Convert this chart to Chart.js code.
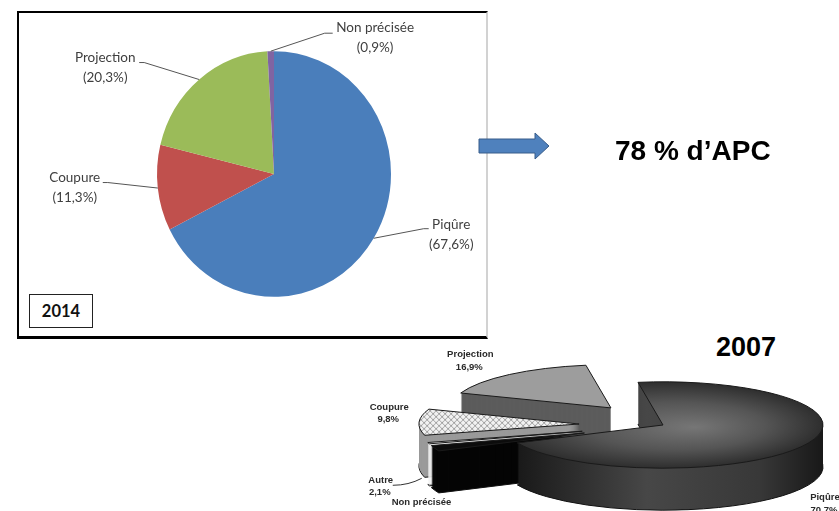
<!DOCTYPE html>
<html><head><meta charset="utf-8">
<script src="https://cdn.jsdelivr.net/npm/chart.js@4.4.1/dist/chart.umd.min.js"></script>
<style>
html,body{margin:0;padding:0;background:#fff;}
body{width:839px;height:511px;overflow:hidden;position:relative;font-family:Lato,sans-serif;}
.abs{position:absolute;}
#box{left:17px;top:11px;width:471px;height:328px;box-sizing:border-box;border-left:2px solid #000;border-top:2px solid #000;border-bottom:3px solid #000;border-right:2px solid #d2d2d2;background:#fff;}
#c1wrap{left:19px;top:13px;width:467px;height:323px;}
#tag{left:29px;top:294px;width:64px;height:34px;box-sizing:border-box;border:1px solid #222;font:bold 16.5px Lato;line-height:32px;text-align:center;color:#111;background:#fff}
#apc{left:615px;top:137px;font:bold 28px "Liberation Sans",Arial,sans-serif;line-height:28px;color:#000;white-space:nowrap}
#y2007{left:716px;top:334px;font:bold 27px "Liberation Sans",Arial,sans-serif;line-height:27px;color:#000}
#c2wrap{left:340px;top:265px;width:540px;height:320px;}
#arrow{left:470px;top:125px;}
</style></head><body>
<div id="box" class="abs"></div>
<div id="c1wrap" class="abs"><canvas id="c1"></canvas></div>
<div id="tag" class="abs">2014</div>
<svg id="arrow" class="abs" width="90" height="45" viewBox="470 125 90 45">
  <polygon points="479,139 535,139 535,133 549,146 535,159 535,153 479,153" fill="#4F81BD" stroke="#385D8A" stroke-width="1"/>
</svg>
<div id="apc" class="abs">78 % d’APC</div>
<div id="y2007" class="abs">2007</div>
<div id="c2wrap" class="abs"><canvas id="c2"></canvas></div>
<script>
// ---- data ----
const cats2014 = ['Piqûre', 'Coupure', 'Projection', 'Non précisée'];
const vals2014 = [67.6, 11.3, 20.3, 0.9];
const cats2007 = ['Piqûre', 'Autre', 'Non précisée', 'Coupure', 'Projection'];
const vals2007 = [70.7, 2.1, 0.5, 9.8, 16.9];

// ---- styles ----
const colors2014 = ['#4a7ebb', '#c0504d', '#9bbb59', '#8064a2'];
const top2007 = ['#4a4a4a', '#0c0c0c', '#ffffff', '#e4e4e4', '#9d9d9d'];
const side2007 = ['#2a2a2a', '#050505', '#f2f2f2', '#9a9a9a', '#5c5c5c'];
const fmt = v => v.toFixed(1).replace('.', ',') + '%';

// label layout relative to slice mid-edge anchor (2014)
const lead2014 = {
  elbow: [[50, -9.6], [-50, -5.5], [-55, -17], [54, -18]],
  end:   [[55, -9.6], [-55, -5.5], [-60, -17], [62, -18]],
  text:  [[77.5, -13.6], [-83, -10.5], [-94, -22], [104.4, -24]]
};
// label layout (2007)
const text2007 = [[21, 52], [-54, 32], [-7, 59], [-30, -15], [-39, -20]];

// ---- chart 2014 ----
const flat2014 = {
  id: 'flat2014',
  beforeDatasetsDraw(chart, args, o) {
    const a = chart.getDatasetMeta(0).data[0];
    const ctx = chart.ctx; ctx.save();
    ctx.translate(a.x, a.y); ctx.scale(1, o.k); ctx.translate(-a.x, -a.y);
  },
  afterDatasetsDraw(chart, args, o) {
    const ctx = chart.ctx; ctx.restore();
    const arcs = chart.getDatasetMeta(0).data;
    ctx.save();
    ctx.font = '13.5px Lato';
    ctx.fillStyle = '#3f3f3f';
    ctx.strokeStyle = '#555';
    ctx.lineWidth = 1;
    ctx.textAlign = 'center'; ctx.textBaseline = 'middle';
    arcs.forEach((a, i) => {
      const mid = (a.startAngle + a.endAngle) / 2;
      const ax = a.x + a.outerRadius * Math.cos(mid);
      const ay = a.y + a.outerRadius * o.k * Math.sin(mid);
      const e = lead2014.elbow[i], n = lead2014.end[i], t = lead2014.text[i];
      ctx.beginPath(); ctx.moveTo(ax, ay); ctx.lineTo(ax + e[0], ay + e[1]); ctx.lineTo(ax + n[0], ay + n[1]); ctx.stroke();
      ctx.fillText(cats2014[i], ax + t[0], ay + t[1]);
      ctx.fillText('(' + fmt(vals2014[i]) + ')', ax + t[0], ay + t[1] + 20);
    });
    ctx.restore();
  }
};

new Chart(document.getElementById('c1'), {
  type: 'pie',
  data: { labels: cats2014, datasets: [{ data: vals2014, backgroundColor: colors2014, borderWidth: 0, hoverOffset: 0, offset: 0, clip: false }] },
  options: {
    responsive: true, maintainAspectRatio: false, animation: false, events: [],
    layout: { padding: { left: 138, right: 95, top: 44, bottom: 45 } },
    plugins: { legend: { display: false }, tooltip: { enabled: false }, flat2014: { k: 1.05 } }
  },
  plugins: [flat2014]
});

// ---- chart 2007 (3D exploded) ----
const K = 0.27;
let hatch = null;
function getHatch(ctx) {
  if (hatch) return hatch;
  const c = document.createElement('canvas'); c.width = 6; c.height = 6;
  const g = c.getContext('2d');
  g.fillStyle = '#f2f2f2'; g.fillRect(0, 0, 6, 6);
  g.strokeStyle = '#a0a0a0'; g.lineWidth = 1;
  g.beginPath(); g.moveTo(0, 6); g.lineTo(6, 0); g.moveTo(0, 0); g.lineTo(6, 6); g.stroke();
  hatch = ctx.createPattern(c, 'repeat');
  try { hatch.setTransform(new DOMMatrix().scale(1, 1 / K)); } catch (e) {}
  return hatch;
}
function topColor(c) {
  const i = c.dataIndex, ch = c.chart, ca = ch.chartArea;
  if (i === 0 && ca) {
    const cx = (ca.left + ca.right) / 2, cy = (ca.top + ca.bottom) / 2, R = Math.min(ca.width, ca.height) / 2;
    const g = ch.ctx.createRadialGradient(cx + 0.2 * R, cy + 0.05 * R, 0, cx, cy, R);
    g.addColorStop(0, '#767676'); g.addColorStop(0.55, '#555555'); g.addColorStop(1, '#2e2e2e');
    return g;
  }
  if (i === 3) return getHatch(ch.ctx);
  return top2007[i];
}
function sideFill(ctx, i, R) {
  if (i === 0) {
    const g = ctx.createLinearGradient(-R, 0, R, 0);
    g.addColorStop(0, '#141414'); g.addColorStop(0.45, '#474747'); g.addColorStop(0.8, '#383838'); g.addColorStop(1, '#181818');
    return g;
  }
  return side2007[i];
}
function sector(ctx, a, x, y, k) {
  ctx.save();
  ctx.translate(x, y); ctx.scale(1, k);
  ctx.beginPath(); ctx.moveTo(0, 0); ctx.arc(0, 0, a.outerRadius, a.startAngle, a.endAngle); ctx.closePath();
  ctx.restore();
}
const pie3d = {
  id: 'pie3d',
  beforeDatasetsDraw(chart, args, o) {
    const ctx = chart.ctx;
    const arcs = chart.getDatasetMeta(0).data;
    const ex = [], ey = [];
    arcs.forEach((a, i) => {
      const mid = (a.startAngle + a.endAngle) / 2;
      ex[i] = Math.cos(mid) * o.explode[i];
      ey[i] = Math.sin(mid) * o.explode[i] * o.k;
    });
    for (const i of o.order) {
      const a = arcs[i];
      const R = a.outerRadius;
      for (let d = o.depth; d >= 1; d--) {
        ctx.save();
        ctx.translate(a.x + ex[i], a.y + ey[i] + d); ctx.scale(1, o.k);
        ctx.beginPath(); ctx.moveTo(0, 0); ctx.arc(0, 0, R, a.startAngle, a.endAngle); ctx.closePath();
        ctx.fillStyle = sideFill(ctx, i, R);
        ctx.fill();
        ctx.restore();
        if (d === o.depth) {
          sector(ctx, a, a.x + ex[i], a.y + ey[i] + d, o.k);
          ctx.lineWidth = 1; ctx.strokeStyle = '#111'; ctx.stroke();
        }
      }
      ctx.save();
      ctx.translate(a.x + ex[i], a.y + ey[i]); ctx.scale(1, o.k); ctx.translate(-a.x, -a.y);
      a.draw(ctx);
      ctx.restore();
      sector(ctx, a, a.x + ex[i], a.y + ey[i], o.k);
      ctx.lineWidth = 1; ctx.strokeStyle = '#1a1a1a'; ctx.stroke();
    }
    // labels
    ctx.save();
    ctx.font = 'bold 9.5px "Liberation Sans", Arial, sans-serif';
    ctx.fillStyle = '#2a2a2a';
    ctx.textAlign = 'center'; ctx.textBaseline = 'middle';
    arcs.forEach((a, i) => {
      const mid = (a.startAngle + a.endAngle) / 2;
      const ax = a.x + ex[i] + a.outerRadius * Math.cos(mid);
      const ay = a.y + ey[i] + a.outerRadius * o.k * Math.sin(mid);
      const t = text2007[i];
      ctx.fillText(cats2007[i], ax + t[0], ay + t[1]);
      ctx.fillText(fmt(vals2007[i]), ax + t[0] - 1, ay + t[1] + 12.5);
      if (i === 1) {
        ctx.strokeStyle = '#333'; ctx.lineWidth = 1;
        ctx.beginPath(); ctx.moveTo(ax - 13, ay + 30);
        ctx.quadraticCurveTo(ax - 26, ay + 37, ax - 42, ay + 37); ctx.stroke();
      }
    });
    ctx.restore();
    return false;
  }
};

new Chart(document.getElementById('c2'), {
  type: 'pie',
  data: { labels: cats2007, datasets: [{ data: vals2007, backgroundColor: topColor, borderWidth: 0, hoverOffset: 0, offset: 0, clip: false }] },
  options: {
    responsive: true, maintainAspectRatio: false, animation: false, events: [],
    rotation: -9,
    layout: { padding: { left: 163, right: 57, top: 0, bottom: 0 } },
    plugins: {
      legend: { display: false }, tooltip: { enabled: false },
      pie3d: { k: K, depth: 42, explode: [0, 84, 84, 84, 82], order: [4, 3, 2, 1, 0] }
    }
  },
  plugins: [pie3d]
});
</script>
</body></html>
